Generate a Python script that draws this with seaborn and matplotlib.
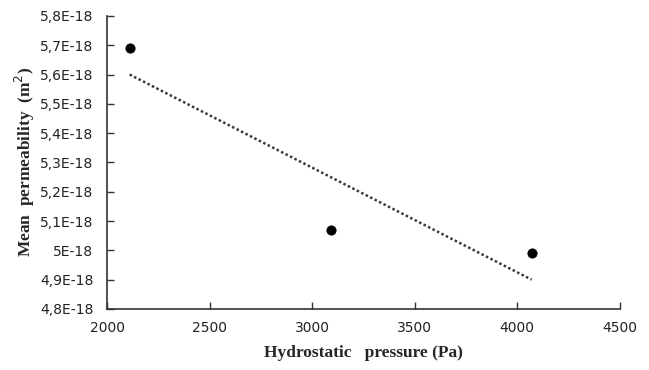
import numpy as np
import pandas as pd
import seaborn as sns
import matplotlib.pyplot as plt
from matplotlib.ticker import FuncFormatter, MultipleLocator

# Data
pressure = [2110, 3090, 4070]            # Pa
permeability = [5.69, 5.07, 4.99]        # x 1E-18 m^2

df = pd.DataFrame({'pressure': pressure, 'permeability': permeability})

# linear trendline through the points
slope, intercept = np.polyfit(df['pressure'], df['permeability'], 1)
trend = pd.DataFrame({'pressure': [min(pressure), max(pressure)]})
trend['permeability'] = slope * trend['pressure'] + intercept

sns.set_theme(style="white")
plt.rcParams['font.family'] = ['DejaVu Sans']

fig = plt.figure(figsize=(6.49, 3.70), dpi=100)
ax = fig.add_axes([0.165, 0.165, 0.79, 0.792])

sns.lineplot(data=trend, x='pressure', y='permeability', color='#3a3a3a',
             linestyle=(0, (1, 1)), linewidth=1.8, ax=ax)
sns.scatterplot(data=df, x='pressure', y='permeability', color='black',
                s=45, edgecolor='black', zorder=3, ax=ax)

ax.set_xlim(2000, 4500)
ax.set_ylim(4.8, 5.8)
ax.xaxis.set_major_locator(MultipleLocator(500))
ax.yaxis.set_major_locator(MultipleLocator(0.1))


def fmt(v, pos):
    s = ('%g' % round(v, 1)).replace('.', ',')
    return s + 'E-18'


ax.yaxis.set_major_formatter(FuncFormatter(fmt))
ax.tick_params(direction='in', length=5, width=1, colors='#333333',
               labelsize=10, labelcolor='#222222', left=True, bottom=True)
ax.tick_params(axis='y', pad=10)
ax.tick_params(axis='x', pad=9)

for side in ['top', 'right']:
    ax.spines[side].set_visible(False)
for side in ['left', 'bottom']:
    ax.spines[side].set_color('#333333')
    ax.spines[side].set_linewidth(1.2)

ax.set_xlabel('Hydrostatic   pressure (Pa)', family='Liberation Serif',
              fontweight='bold', fontsize=12.5, labelpad=7)
ax.set_ylabel('Mean  permeability  (m$^2$)', family='Liberation Serif',
              fontweight='bold', fontsize=12.5, labelpad=2)
ax.grid(False)

plt.savefig('out.png', dpi=100)
plt.close()
